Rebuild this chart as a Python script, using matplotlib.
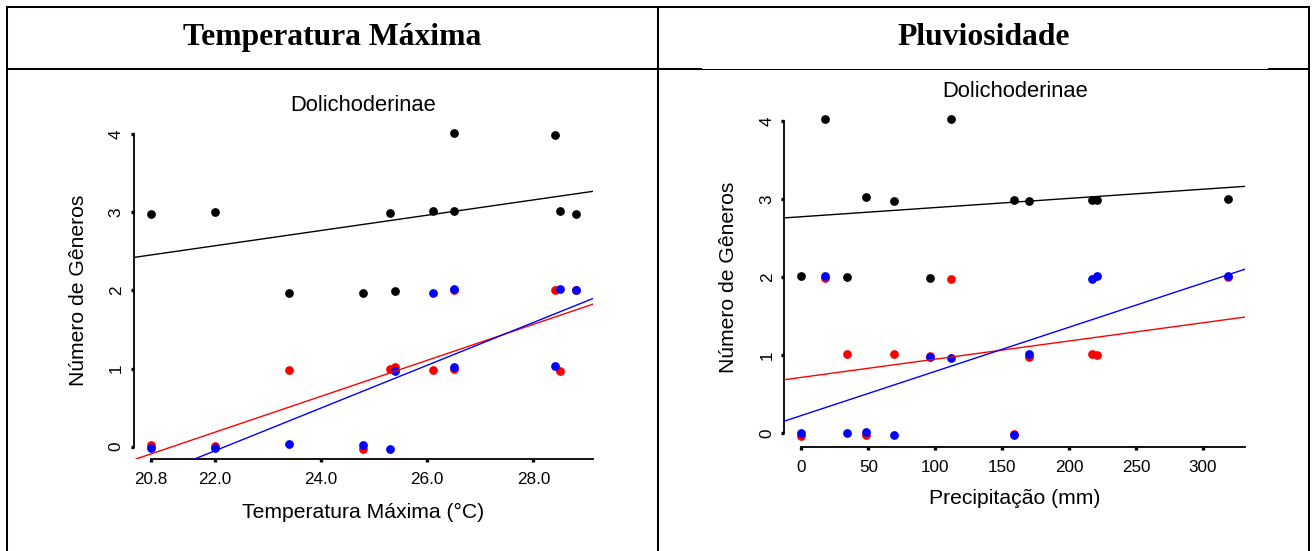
import numpy as np
import matplotlib
matplotlib.use("Agg")
import matplotlib.pyplot as plt
from matplotlib.lines import Line2D

plt.rcParams['font.family'] = ['Liberation Sans', 'DejaVu Sans']

W, H = 1316, 551
DPI = 100

# ---- data -------------------------------------------------------------
headers = ["Temperatura Máxima", "Pluviosidade"]
panel_title = "Dolichoderinae"
ylabel = "Número de Gêneros"

# maximum temperature (°C) per site
tmax = [20.8, 22.0, 23.4, 24.8, 25.3, 25.4, 26.1, 26.5, 26.5, 28.4, 28.5, 28.8]
tmax_black = [2.98, 3.00, 1.97, 1.97, 2.99, 1.99, 3.01, 3.02, 4.01, 3.99, 3.02, 2.98]
tmax_red = [0.02, 0.01, 0.98, -0.03, 0.99, 1.02, 0.98, 2.00, 0.99, 2.00, 0.97, 2.00]
tmax_blue = [-0.01, -0.01, 0.03, 0.02, -0.03, 0.97, 1.97, 2.02, 1.02, 1.03, 2.02, 2.01]
tmax_ticks = [20.8, 22.0, 24.0, 26.0, 28.0]
tmax_ticklabels = ["20.8", "22.0", "24.0", "26.0", "28.0"]
tmax_xlabel = "Temperatura Máxima (°C)"

# precipitation (mm) per site
prec = [0, 18, 34, 48, 69, 96, 112, 159, 170, 217, 221, 319]
prec_black = [2.01, 4.03, 2.00, 3.02, 2.98, 1.99, 4.02, 2.99, 2.98, 2.99, 2.99, 3.00]
prec_red = [-0.03, 1.99, 1.01, -0.02, 1.02, 0.99, 1.98, -0.01, 0.98, 1.02, 1.00, 2.00]
prec_blue = [0.00, 2.02, 0.00, 0.01, -0.02, 0.98, 0.97, -0.02, 1.02, 1.97, 2.01, 2.01]
prec_ticks = [0, 50, 100, 150, 200, 250, 300]
prec_ticklabels = ["0", "50", "100", "150", "200", "250", "300"]
prec_xlabel = "Precipitação (mm)"

y_ticks = [0, 1, 2, 3, 4]
series_colors = ["black", "#ff0000", "#0000ff"]

fig = plt.figure(figsize=(W / DPI, H / DPI), dpi=DPI)


def fx(x):
    return x / W


def fy(y):
    return 1 - y / H


def add_axes_px(left, top, right, bottom):
    return fig.add_axes([fx(left), fy(bottom), (right - left) / W, (bottom - top) / H])


# ---- table frame ------------------------------------------------------
def hline(x0, x1, y, lw=1.45):
    fig.add_artist(Line2D([fx(x0), fx(x1)], [fy(y), fy(y)], color="black",
                          lw=lw, solid_capstyle="projecting", transform=fig.transFigure))


def vline(x, y0, y1, lw=1.45):
    fig.add_artist(Line2D([fx(x), fx(x)], [fy(y0), fy(y1)], color="black",
                          lw=lw, solid_capstyle="projecting", transform=fig.transFigure))


hline(7, 1309, 7)
hline(7, 701, 69)
hline(701, 1269, 68.6, lw=0.75)
hline(1269, 1309, 69)
vline(7, 7, 560)
vline(658, 7, 560)
vline(1309, 7, 560)

for txt, xc in zip(headers, [332.5, 983.5]):
    fig.text(fx(xc), fy(45), txt, ha="center", va="baseline",
             fontsize=22.8, fontweight="bold", family="Liberation Serif")


# ---- scatter panels ---------------------------------------------------
def panel(box, x, groups, xlim, ylim, xticks, xticklabels, xlabel,
          title_base, xlabel_base, ylabel_x, ytick_gap):
    left, top, right, bottom = box
    ax = add_axes_px(left, top, right, bottom)
    ax.set_xlim(*xlim)
    ax.set_ylim(*ylim)
    ax.patch.set_alpha(0)

    xs = np.asarray(x, dtype=float)
    for vals, col in zip(groups, series_colors):
        ax.plot(xs, vals, "o", ms=6.3, color=col, mec="none", zorder=3)
    for vals, col in zip(groups, series_colors):
        counts = np.rint(vals)
        slope, icept = np.polyfit(xs, counts, 1)
        ax.axline((0, icept), slope=slope, color=col, lw=1.0, zorder=4)

    for s in ["top", "right"]:
        ax.spines[s].set_visible(False)
    for s in ["left", "bottom"]:
        ax.spines[s].set_linewidth(1.3)
    ax.spines["left"].set_bounds(y_ticks[0], y_ticks[-1])
    ax.spines["bottom"].set_bounds(xticks[0], xlim[1])

    ax.tick_params(length=2.0, width=2.4, direction="out", labelsize=12.3)
    ax.set_xticks(xticks, xticklabels, va="baseline")
    ax.tick_params(axis="x", pad=16.0)
    ax.set_yticks(y_ticks, [str(v) for v in y_ticks], rotation=90,
                  ha="center", va="baseline", rotation_mode="anchor")
    ax.tick_params(axis="y", pad=ytick_gap / (DPI / 72) - 2.0)

    hpx = bottom - top
    wpx = right - left
    ax.set_title(panel_title, fontsize=15.8, pad=0,
                 y=(bottom - title_base) / hpx, va="baseline")
    ax.set_xlabel(xlabel, fontsize=15.2, va="baseline")
    ax.xaxis.set_label_coords(0.5, (bottom - xlabel_base) / hpx)
    ax.set_ylabel(ylabel, fontsize=15.2, va="baseline")
    ax.yaxis.set_label_coords((ylabel_x - left) / wpx, 0.5)
    return ax


panel((134, 121.5, 593, 459), tmax, [tmax_black, tmax_red, tmax_blue],
      (20.48, 29.12), (-0.157, 4.16), tmax_ticks, tmax_ticklabels, tmax_xlabel,
      title_base=110.7, xlabel_base=517.5, ylabel_x=84.3, ytick_gap=13.3)

panel((784.3, 107.7, 1245.4, 446.7), prec, [prec_black, prec_red, prec_blue],
      (-12.76, 331.8), (-0.172, 4.17), prec_ticks, prec_ticklabels, prec_xlabel,
      title_base=97.3, xlabel_base=504.5, ylabel_x=733.9, ytick_gap=12.6)

fig.savefig("out.png", dpi=DPI)
